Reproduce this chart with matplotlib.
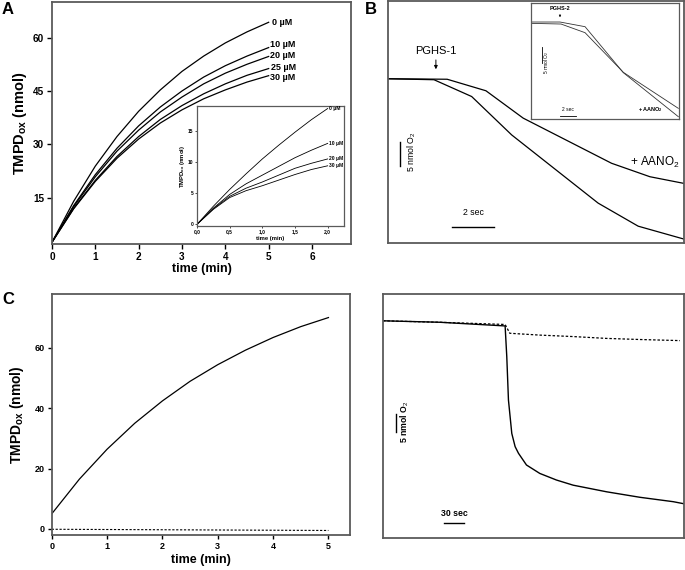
import numpy as np
import matplotlib
matplotlib.use("Agg")
import matplotlib.pyplot as plt
from matplotlib.ticker import FuncFormatter

plt.rcParams['font.family'] = ['Liberation Sans', 'DejaVu Sans']
plt.rcParams['mathtext.fontset'] = 'custom'
plt.rcParams['mathtext.rm'] = 'Liberation Sans'
plt.rcParams['mathtext.bf'] = 'Liberation Sans:bold'
plt.rcParams['mathtext.it'] = 'Liberation Sans:italic'

# ---- panel A: TMPD oxidation, main plot
t_a = [0, 0.5, 1, 1.5, 2, 2.5, 3, 3.5, 4, 4.5, 5]
a_0uM = [2.5, 14.0, 23.9, 32.2, 39.3, 45.3, 50.5, 54.8, 58.5, 61.6, 64.3]
a_10uM = [2.5, 12.8, 21.5, 28.9, 35.2, 40.5, 45.0, 48.9, 52.1, 54.8, 57.2]
a_20uM = [2.5, 12.5, 20.9, 28.1, 34.0, 39.1, 43.3, 47.0, 50.0, 52.5, 54.7]
a_25uM = [2.5, 12.0, 19.9, 26.6, 32.2, 37.0, 40.9, 44.2, 47.0, 49.4, 51.3]
a_30uM = [2.5, 11.9, 19.6, 26.1, 31.5, 36.0, 39.7, 42.8, 45.3, 47.5, 49.3]
a_labels = ['0 \u00b5M', '10 \u00b5M', '20 \u00b5M', '25 \u00b5M', '30 \u00b5M']
a_label_y = [64.3, 58.0, 54.9, 51.6, 48.9]

# ---- panel A inset
t_ai = [0, 0.25, 0.5, 0.75, 1.0, 1.25, 1.5, 1.75, 2.0]
ai_0uM = [0, 2.9, 5.6, 8.1, 10.5, 12.7, 14.8, 16.8, 18.6]
ai_10uM = [0, 2.6, 4.8, 6.5, 7.9, 9.3, 10.7, 11.9, 13.0]
ai_20uM = [0, 2.5, 4.5, 5.8, 6.8, 7.9, 9.0, 9.8, 10.5]
ai_30uM = [0, 2.4, 4.3, 5.4, 6.2, 7.1, 8.0, 8.8, 9.4]
ai_labels = ['0 \u00b5M', '10 \u00b5M', '20 \u00b5M', '30 \u00b5M']

# ---- panel B: O2 traces (sec, nmol O2)
b_t_aano2 = [0, 2.78, 4.60, 6.35, 10.50, 12.30, 13.91]
b_o2_aano2 = [34.2, 34.1, 31.7, 26.0, 16.6, 13.8, 12.4]
b_t_ctrl = [0, 2.16, 3.93, 5.81, 9.87, 11.75, 13.91]
b_o2_ctrl = [34.2, 34.0, 30.5, 22.5, 8.3, 3.5, 0.8]

# ---- panel B inset (PGHS-2)
bi_t1 = [0, 3.70, 6.90, 11.79, 18.81]
bi_o2_1 = [29.1, 29.1, 27.7, 13.9, 0.7]
bi_t2 = [0, 3.83, 6.90, 11.79, 18.81]
bi_o2_2 = [28.7, 28.5, 25.9, 14.0, 3.2]

# ---- panel C
t_c = [0, 0.5, 1, 1.5, 2, 2.5, 3, 3.5, 4, 4.5, 5]
c_solid = [5.0, 16.5, 26.4, 35.0, 42.4, 48.9, 54.4, 59.2, 63.4, 67.0, 70.0]
t_c_dash = [0, 5]
c_dash = [-0.1, -0.5]

# ---- panel D: O2 traces (sec, nmol O2)
d_t_solid = [0, 85, 183, 185.5, 188, 193, 198, 203, 215, 235, 260, 285, 335, 385, 435, 452]
d_o2_solid = [59.2, 58.8, 57.8, 49.4, 37.6, 28.5, 24.9, 23.1, 19.9, 17.6, 15.8, 14.4, 12.6, 11.1, 9.9, 9.3]
d_t_dash = [0, 85, 183, 190, 235, 285, 335, 385, 445]
d_o2_dash = [59.2, 58.8, 58.2, 55.8, 55.3, 54.9, 54.4, 54.1, 53.8]

FRAME = '#5a5a5a'


def frame(ax, lw=1.3):
    for s in ax.spines.values():
        s.set_color(FRAME)
        s.set_linewidth(lw)


def scale_bars(ax, x0, y0, dx, dy, xtxt, ytxt, fs, lw=1.0):
    # horizontal time bar and vertical O2 bar
    ax.plot([x0[0], x0[0] + dx], [x0[1], x0[1]], color='k', lw=lw)
    ax.text(xtxt[0], xtxt[1], xtxt[2], ha='center', va='center', fontsize=fs)
    ax.plot([y0[0], y0[0]], [y0[1], y0[1] + dy], color='k', lw=lw)
    ax.text(ytxt[0], ytxt[1], ytxt[2], ha='center', va='center', fontsize=fs, rotation=90)


fig = plt.figure(figsize=(6.85, 5.7), dpi=100)

# ---------------- A
axA = fig.add_axes([0.0759, 0.5719, 0.4365, 0.4246])
for y in [a_0uM, a_10uM, a_20uM, a_25uM, a_30uM]:
    axA.plot(t_a, y, color='k', lw=0.9)
axA.set_xlim(0, 6.9)
axA.set_ylim(2, 70)
axA.set_xticks(range(0, 7))
axA.set_yticks([15, 30, 45, 60])
axA.tick_params(direction='out', length=3.5, width=1, labelsize=7.2, pad=2)
for lab in axA.get_xticklabels() + axA.get_yticklabels():
    lab.set_fontweight('bold')
axA.set_xlabel('time (min)', fontsize=9, fontweight='bold', labelpad=1)
axA.set_ylabel(r'TMPD$_{\mathbf{ox}}$ (nmol)', fontsize=10.5, fontweight='bold', labelpad=3)
frame(axA)
for yl, lab, dx in zip(a_label_y, a_labels, [0.08, 0.03, 0.03, 0.06, 0.03]):
    axA.text(t_a[-1] + dx, yl, lab, fontsize=6.5, fontweight='bold', va='center')

# inset A
axAi = fig.add_axes([0.2876, 0.6035, 0.2146, 0.2105])
for y in [ai_0uM, ai_10uM, ai_20uM, ai_30uM]:
    axAi.plot(t_ai, y, color='k', lw=0.6)
axAi.set_xlim(0, 2.25)
axAi.set_ylim(-0.27, 19)
axAi.set_xticks([0, 0.5, 1.0, 1.5, 2.0])
axAi.set_yticks([0, 5, 10, 15])
axAi.xaxis.set_major_formatter(FuncFormatter(lambda v, p: ('%.1f' % v).replace('.', ',')))
axAi.tick_params(direction='out', length=1.5, width=0.5, labelsize=3.5, pad=1)
for lab in axAi.get_xticklabels() + axAi.get_yticklabels():
    lab.set_fontweight('bold')
axAi.set_xlabel('time (min)', fontsize=4.2, fontweight='bold', labelpad=1)
axAi.set_ylabel(r'TMPD$_{\mathbf{ox}}$ (nmol)', fontsize=4.2, fontweight='bold', labelpad=1)
frame(axAi, lw=0.9)
for y, lab in zip([ai_0uM, ai_10uM, ai_20uM, ai_30uM], ai_labels):
    axAi.text(t_ai[-1] + 0.02, y[-1], lab, fontsize=3.6, fontweight='bold', va='center')

# ---------------- B
axB = fig.add_axes([0.5664, 0.5737, 0.4321, 0.4246])
axB.plot(b_t_aano2, b_o2_aano2, color='k', lw=0.9)
axB.plot(b_t_ctrl, b_o2_ctrl, color='k', lw=0.9)
axB.set_xlim(0, 13.9)
axB.set_ylim(0, 50.4)
axB.set_xticks([])
axB.set_yticks([])
frame(axB)
axB.text(2.25, 39.9, 'PGHS-1', ha='center', va='center', fontsize=8)
axB.annotate('', xy=(2.25, 35.6), xytext=(2.25, 38.7),
             arrowprops=dict(arrowstyle='-|>', color='k', lw=0.7, mutation_scale=5))
axB.text(11.36, 16.7, r'+ AANO$_2$', ha='left', va='center', fontsize=8.5)
scale_bars(axB, (2.99, 3.4), (0.56, 16.1), 2, 5,
           (4.0, 6.25, '2 sec'), (1.11, 19.0, r'5 nmol O$_2$'), 6.3)

# inset B
axBi = fig.add_axes([0.7752, 0.7912, 0.2161, 0.2035])
axBi.plot(bi_t1, bi_o2_1, color='#333333', lw=0.6)
axBi.plot(bi_t2, bi_o2_2, color='#333333', lw=0.6)
axBi.set_xlim(0, 18.9)
axBi.set_ylim(0, 34.8)
axBi.set_xticks([])
axBi.set_yticks([])
frame(axBi, lw=0.9)
axBi.text(3.7, 33.2, 'PGHS-2', ha='center', va='center', fontsize=4, fontweight='bold')
axBi.annotate('', xy=(3.7, 29.7), xytext=(3.7, 32.1),
              arrowprops=dict(arrowstyle='-|>', color='k', lw=0.4, mutation_scale=3))
axBi.text(15.3, 2.7, r'+ AANO$_\mathbf{2}$', ha='center', va='center', fontsize=4, fontweight='bold')
scale_bars(axBi, (3.7, 0.9), (1.44, 16.7), 2, 5,
           (4.7, 2.9, '2 sec'), (1.95, 17.0, r'5 nmol O$_2$'), 3.5, lw=0.6)

# ---------------- C
axC = fig.add_axes([0.0755, 0.0614, 0.4355, 0.4228])
axC.plot(t_c, c_solid, color='k', lw=0.9)
axC.plot(t_c_dash, c_dash, color='k', lw=0.8, ls=(0, (2, 1.5)))
axC.set_xlim(0, 5.39)
axC.set_ylim(-2, 77.8)
axC.set_xticks(range(0, 6))
axC.set_yticks([0, 20, 40, 60])
axC.tick_params(direction='out', length=3, width=1, labelsize=6.5, pad=2)
for lab in axC.get_xticklabels() + axC.get_yticklabels():
    lab.set_fontweight('bold')
axC.set_xlabel('time (min)', fontsize=9, fontweight='bold', labelpad=2)
axC.set_ylabel(r'TMPD$_{\mathbf{ox}}$ (nmol)', fontsize=10, fontweight='bold', labelpad=6)
frame(axC)

# ---------------- D
axD = fig.add_axes([0.5591, 0.0561, 0.4394, 0.4281])
axD.plot(d_t_solid, d_o2_solid, color='k', lw=1.0)
axD.plot(d_t_dash, d_o2_dash, color='k', lw=0.9, ls=(0, (2, 1.5)))
axD.set_xlim(0, 451)
axD.set_ylim(0, 66.5)
axD.set_xticks([])
axD.set_yticks([])
frame(axD)
scale_bars(axD, (91.9, 4.2), (19.5, 28.8), 30, 5,
           (107, 6.6, '30 sec'), (33, 31.7, r'5 nmol O$_2$'), 6.3)
for t in axD.texts:
    t.set_fontweight('bold')

# panel letters
fig.text(0.003, 0.997, 'A', fontsize=12, fontweight='bold', va='top', ha='left')
fig.text(0.533, 0.997, 'B', fontsize=12, fontweight='bold', va='top', ha='left')
fig.text(0.003, 0.488, 'C', fontsize=12, fontweight='bold', va='top', ha='left')

fig.savefig('out.png', dpi=100)
